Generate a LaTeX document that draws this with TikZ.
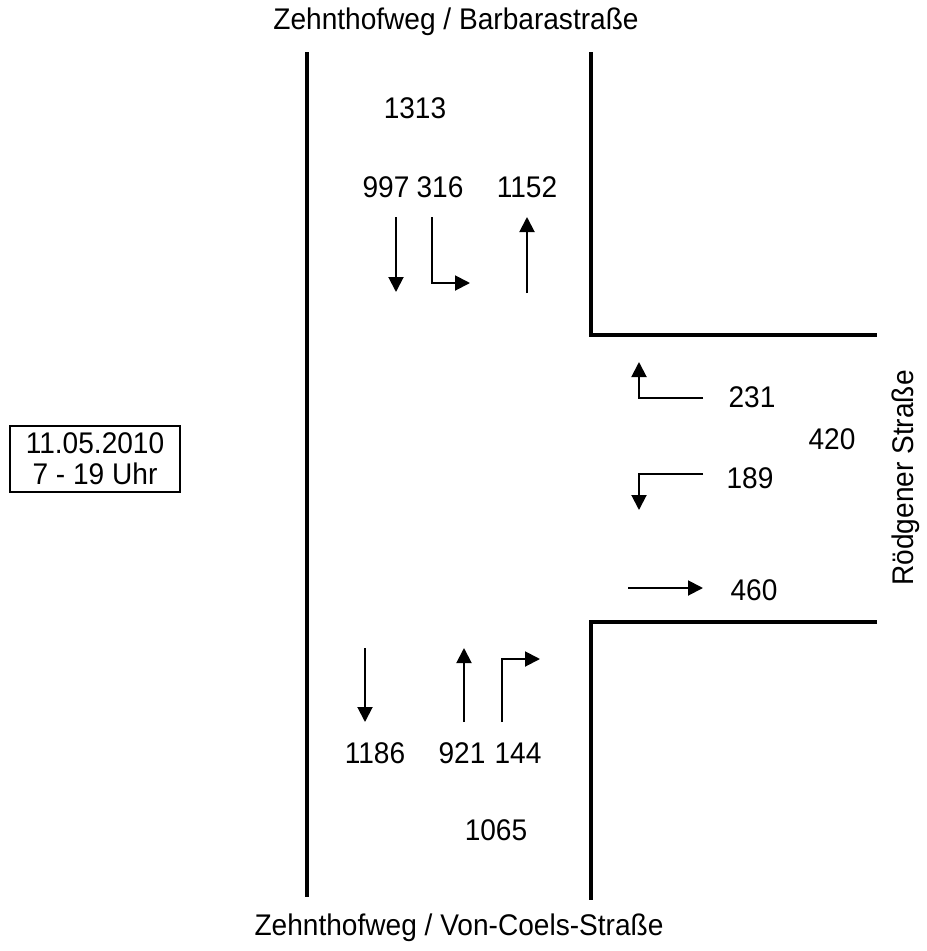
\documentclass[tikz,border=0pt]{standalone}
\usepackage{fontspec}
\setmainfont{Liberation Sans}[FakeStretch=0.94]
\usetikzlibrary{arrows.meta}
\tikzset{
  road/.style={line width=2.8pt},
  flow/.style={line width=1.1pt,-{Triangle[length=0.3cm,width=0.3cm]}},
  count/.style={font=\fontsize{17}{17.5}\selectfont,inner sep=0pt},
}
\begin{document}
\begin{tikzpicture}[x=0.02cm,y=-0.02cm]
\useasboundingbox (0,0) rectangle (927,951);
% street edges
\draw[road] (307,52) -- (307,897);
\draw[road] (591,52) -- (591,335) -- (877,335);
\draw[road] (877,622) -- (591,622) -- (591,900);
% street names
\node[count] (north) at (456,22) {Zehnthofweg / Barbarastraße};
\node[count] (south) at (459,928) {Zehnthofweg / Von-Coels-Straße};
\node[count,rotate=90] (east) at (906,478) {Rödgener Straße};
% date box
\node[draw,line width=0.7pt,count,minimum width=3.4cm,minimum height=1.32cm,align=center] (date) at (95,459) {11.05.2010\\7 - 19 Uhr};
% north arm
\node[count] (n-sum) at (415,108) {1313};
\node[count] (n-straight) at (386,187) {997};
\node[count] (n-left) at (440,187) {316};
\node[count] (n-out) at (527,187) {1152};
\draw[flow] (396,217) -- (396,292);
\draw[flow] (432,217) -- (432,283) -- (470,283);
\draw[flow] (527,293) -- (527,217);
% east arm
\node[count] (e-right) at (752,397) {231};
\node[count] (e-sum) at (832,439) {420};
\node[count] (e-left) at (750,478) {189};
\node[count] (e-out) at (754,590) {460};
\draw[flow] (703,398) -- (639,398) -- (639,362);
\draw[flow] (703,474) -- (639,474) -- (639,510);
\draw[flow] (628,588) -- (703,588);
% south arm
\draw[flow] (365,648) -- (365,722);
\draw[flow] (464,722) -- (464,648);
\draw[flow] (502,722) -- (502,659) -- (540,659);
\node[count] (s-out) at (375,753) {1186};
\node[count] (s-straight) at (462,753) {921};
\node[count] (s-right) at (518,753) {144};
\node[count] (s-sum) at (496,830) {1065};
\end{tikzpicture}
\end{document}
